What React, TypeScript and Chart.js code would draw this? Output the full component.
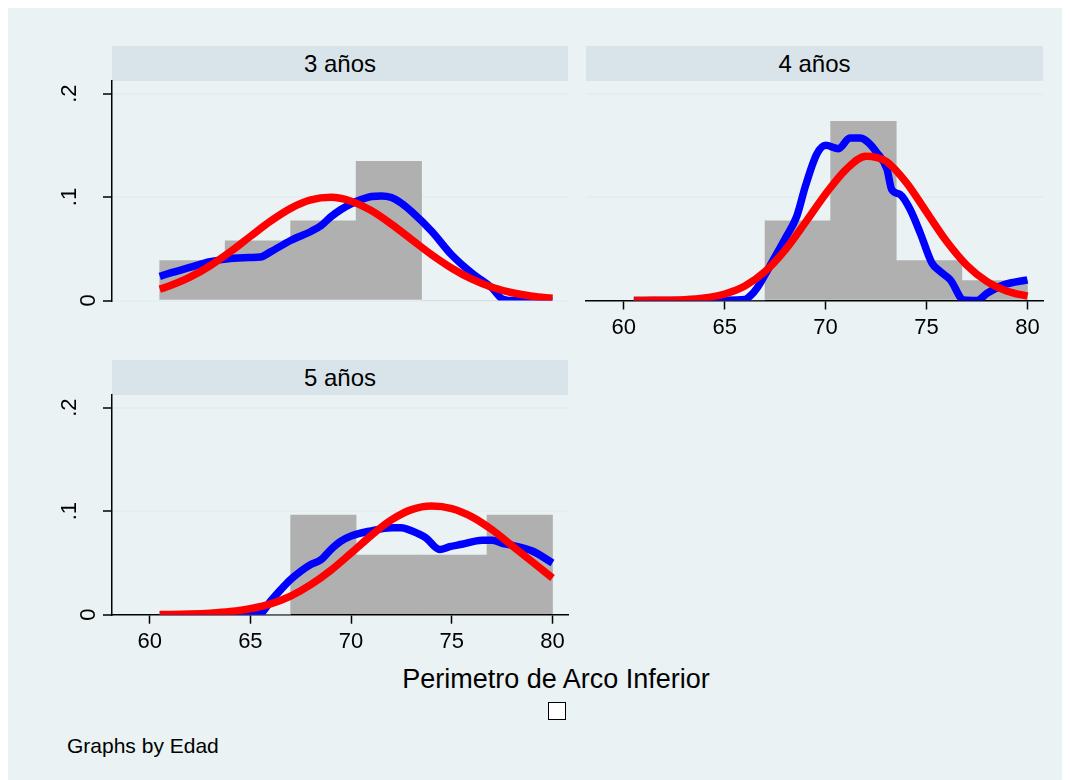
import React, { useEffect, useRef } from "react";
import { Chart, registerables } from "chart.js";

Chart.register(...registerables);

const FONT = "'Liberation Sans', Arial, Helvetica, sans-serif";

// ---------- data ----------
const panelTitles = ["3 años", "4 años", "5 años"];
const xTicks = [60, 65, 70, 75, 80];
const yTicks = [0, 0.1, 0.2];
const yTickLabels = ["0", ".1", ".2"];
const xTitle = "Perimetro de Arco Inferior";
const noteText = "Graphs by Edad";

// histogram bins: edges 60.5, 63.75, 67, 70.25, 73.5, 76.75, 80
const binCenters = [62.125, 65.375, 68.625, 71.875, 75.125, 78.375];
const hist3 = [0.0385, 0.0577, 0.0769, 0.1346, 0, 0];
const hist4 = [0, 0, 0.0769, 0.1731, 0.0385, 0.0192];
const hist5 = [0, 0, 0.0962, 0.0577, 0.0577, 0.0962];

// normal density curves
const normX = [60.5, 61, 62, 63, 64, 65, 66, 67, 68, 69, 70, 71, 72, 73, 74, 75, 76, 77, 78, 79, 80];
const norm3 = [0.011, 0.0142, 0.0225, 0.0336, 0.0471, 0.062, 0.0767, 0.0891, 0.0972, 0.0997, 0.096, 0.0869, 0.0738, 0.059, 0.0442, 0.0312, 0.0206, 0.0128, 0.0075, 0.0041, 0.0021];
const norm4 = [0.0, 0.0001, 0.0002, 0.0008, 0.0025, 0.0063, 0.014, 0.028, 0.049, 0.0755, 0.103, 0.1265, 0.1395, 0.1345, 0.114, 0.0855, 0.057, 0.034, 0.0182, 0.009, 0.0042];
const norm5 = [0.0002, 0.0003, 0.0007, 0.0015, 0.003, 0.0058, 0.0105, 0.018, 0.029, 0.043, 0.0595, 0.0765, 0.0915, 0.1015, 0.105, 0.1025, 0.0945, 0.082, 0.0665, 0.051, 0.0355];

// kernel density curves
const kdeX3 = [60.5, 61, 62, 63, 64, 65, 65.5, 66, 67, 68, 68.5, 69, 69.5, 70, 70.5, 71, 71.5, 72, 72.5, 73, 74, 75, 76, 77, 77.5, 78, 79, 80];
const kdeY3 = [0.0233, 0.0265, 0.032, 0.0375, 0.0405, 0.0415, 0.042, 0.047, 0.058, 0.0667, 0.0722, 0.081, 0.088, 0.0935, 0.0975, 0.1005, 0.101, 0.0995, 0.094, 0.086, 0.067, 0.044, 0.0265, 0.012, 0.0016, 0, 0, 0];

const kdeX4 = [60.5, 62, 64, 66, 66.3, 66.6, 67, 67.5, 68, 68.57, 69, 69.56, 70, 70.64, 71.2, 71.7, 72.04, 72.54, 73.04, 73.28, 73.7, 74.19, 74.69, 75.27, 75.68, 76.18, 76.84, 77.5, 78, 78.83, 80];
const kdeY4 = [0, 0, 0, 0.001, 0.005, 0.012, 0.025, 0.0425, 0.06, 0.0813, 0.1105, 0.1413, 0.15, 0.1468, 0.157, 0.157, 0.154, 0.143, 0.127, 0.107, 0.1024, 0.088, 0.0652, 0.0361, 0.028, 0.0199, 0.0005, 0, 0.007, 0.0151, 0.0199];

const kdeX5 = [60.5, 62, 64, 65, 65.5, 66, 66.5, 67, 67.5, 68, 68.5, 69, 69.5, 70, 71, 72, 72.5, 73, 73.7, 74.4, 74.9, 75.5, 76.5, 77, 77.5, 78, 79, 80];
const kdeY5 = [0, 0, 0, 0, 0.001, 0.013, 0.024, 0.034, 0.042, 0.0485, 0.053, 0.063, 0.071, 0.076, 0.081, 0.084, 0.084, 0.081, 0.0744, 0.063, 0.0657, 0.068, 0.072, 0.072, 0.069, 0.067, 0.0615, 0.05];

// ---------- styling constants ----------
const X_MIN = 58.13;
const X_MAX = 80.77;
const Y_MAX = 0.2122;
const BG = "#eaf2f3";
const STRIP = "#d8e4ea";
const GRID = "#e4eef1";

const toPts = (xs: number[], ys: number[]) => xs.map((x, i) => ({ x, y: ys[i] }));

const yLabelPlugin = {
  id: "yLabels",
  afterDraw(chart: any, _args: any, opts: any) {
    if (!opts || !opts.show) return;
    const s = chart.scales.y;
    const ctx = chart.ctx;
    ctx.save();
    ctx.font = `22px ${FONT}`;
    ctx.fillStyle = "#000";
    ctx.textAlign = "center";
    ctx.textBaseline = "alphabetic";
    yTicks.forEach((v, i) => {
      const label = yTickLabels[i];
      const y = s.getPixelForValue(v);
      const gap = label.length === 1 ? 17.5 : 36;
      ctx.save();
      ctx.translate(s.right - gap, y);
      ctx.rotate(-Math.PI / 2);
      ctx.fillText(label, 0, 0);
      ctx.restore();
    });
    ctx.restore();
  },
};

type PanelOpts = {
  hist: number[];
  kx: number[];
  ky: number[];
  ny: number[];
  showX: boolean;
  showY: boolean;
  yWidth: number;
  xHeight: number;
  padRight: number;
  padBottom: number;
};

function makeConfig(p: PanelOpts): any {
  return {
    type: "line",
    data: {
      datasets: [
        {
          type: "line",
          data: toPts(normX, p.ny),
          borderColor: "#ff0000",
          borderWidth: 7.5,
          pointRadius: 0,
          cubicInterpolationMode: "monotone",
          fill: false,
          borderJoinStyle: "round",
          order: 0,
        },
        {
          type: "line",
          data: toPts(p.kx, p.ky),
          borderColor: "#0000ff",
          borderWidth: 7.5,
          pointRadius: 0,
          cubicInterpolationMode: "monotone",
          fill: false,
          borderJoinStyle: "round",
          order: 1,
        },
        {
          type: "bar",
          data: toPts(binCenters, p.hist),
          backgroundColor: "#b0b0b0",
          borderWidth: 0,
          barPercentage: 1,
          categoryPercentage: 1,
          order: 2,
        },
      ],
    },
    options: {
      animation: false,
      responsive: false,
      devicePixelRatio: 1,
      events: [],
      layout: { padding: { top: 11, right: p.padRight, bottom: p.padBottom, left: 0 } },
      plugins: {
        legend: { display: false },
        tooltip: { enabled: false },
        yLabels: { show: p.showY },
      },
      scales: {
        x: {
          type: "linear",
          display: p.showX,
          min: X_MIN,
          max: X_MAX,
          offset: false,
          afterBuildTicks: (s: any) => {
            s.ticks = xTicks.map((v) => ({ value: v }));
          },
          afterFit: (s: any) => {
            s.height = p.xHeight;
          },
          ticks: {
            autoSkip: false,
            maxRotation: 0,
            minRotation: 0,
            padding: 5,
            color: "#000",
            font: { family: FONT, size: 22 },
            callback: (v: any) => String(v),
          },
          grid: {
            offset: false,
            drawOnChartArea: false,
            drawTicks: true,
            tickLength: 9,
            tickColor: "#000",
            tickWidth: 1.5,
          },
          border: { display: true, color: "#000", width: 1.5 },
        },
        y: {
          type: "linear",
          min: 0,
          max: Y_MAX,
          afterBuildTicks: (s: any) => {
            s.ticks = yTicks.map((v) => ({ value: v }));
          },
          afterFit: (s: any) => {
            s.width = p.yWidth;
          },
          ticks: { display: false },
          grid: {
            color: (c: any) => (c.tick && c.tick.value === 0 && p.showX ? "rgba(0,0,0,0)" : GRID),
            lineWidth: 2,
            drawTicks: p.showY,
            tickLength: 9,
            tickColor: "#000",
            tickWidth: 1.5,
          },
          border: { display: p.showY, color: "#000", width: 1.5 },
        },
      },
    },
    plugins: [yLabelPlugin],
  };
}

function ChartCanvas({ opts, left, top, width, height }: { opts: PanelOpts; left: number; top: number; width: number; height: number }) {
  const ref = useRef<HTMLCanvasElement | null>(null);
  useEffect(() => {
    if (!ref.current) return;
    const chart = new Chart(ref.current, makeConfig(opts));
    return () => chart.destroy();
  }, []);
  return (
    <canvas
      ref={ref}
      width={width}
      height={height}
      style={{ position: "absolute", left: left - 8, top: top - 8, width, height, display: "block" }}
    />
  );
}

function Strip({ text, left, top, width }: { text: string; left: number; top: number; width: number }) {
  return (
    <div
      style={{
        position: "absolute",
        left: left - 8,
        top: top - 8,
        width,
        height: 35,
        background: STRIP,
        color: "#000",
        font: `24px ${FONT}`,
        lineHeight: "35px",
        textAlign: "center",
      }}
    >
      {text}
    </div>
  );
}

export default function App() {
  useEffect(() => {
    document.documentElement.style.overflow = "hidden";
  }, []);

  const p1: PanelOpts = { hist: hist3, kx: kdeX3, ky: kdeY3, ny: norm3, showX: false, showY: true, yWidth: 72, xHeight: 0, padRight: 2, padBottom: 9.5 };
  const p2: PanelOpts = { hist: hist4, kx: kdeX4, ky: kdeY4, ny: norm4, showX: true, showY: false, yWidth: 26, xHeight: 39.5, padRight: 7, padBottom: 0 };
  const p3: PanelOpts = { hist: hist5, kx: kdeX5, ky: kdeY5, ny: norm5, showX: true, showY: true, yWidth: 72, xHeight: 39.3, padRight: 2, padBottom: 0 };

  return (
    <div style={{ position: "relative", width: 1062, height: 772, background: BG, fontFamily: FONT }}>
      <Strip text={panelTitles[0]} left={112} top={46} width={456} />
      <Strip text={panelTitles[1]} left={586} top={46} width={457} />
      <Strip text={panelTitles[2]} left={112} top={360} width={456} />
      <ChartCanvas opts={p1} left={40} top={70} width={530} height={240} />
      <ChartCanvas opts={p2} left={560} top={70} width={490} height={270} />
      <ChartCanvas opts={p3} left={40} top={384} width={530} height={270} />
      <div
        style={{
          position: "absolute",
          left: 556 - 300 - 8,
          top: 664 - 8,
          width: 600,
          textAlign: "center",
          font: `27px ${FONT}`,
          lineHeight: "30px",
          color: "#000",
        }}
      >
        {xTitle}
      </div>
      <div
        style={{
          position: "absolute",
          left: 548 - 8,
          top: 702 - 8,
          width: 18,
          height: 18,
          boxSizing: "border-box",
          background: "#fff",
          border: "1px solid #000",
        }}
      />
      <div
        style={{
          position: "absolute",
          left: 67 - 8,
          top: 734 - 8,
          font: `21px ${FONT}`,
          lineHeight: "24px",
          color: "#000",
          whiteSpace: "nowrap",
        }}
      >
        {noteText}
      </div>
    </div>
  );
}
